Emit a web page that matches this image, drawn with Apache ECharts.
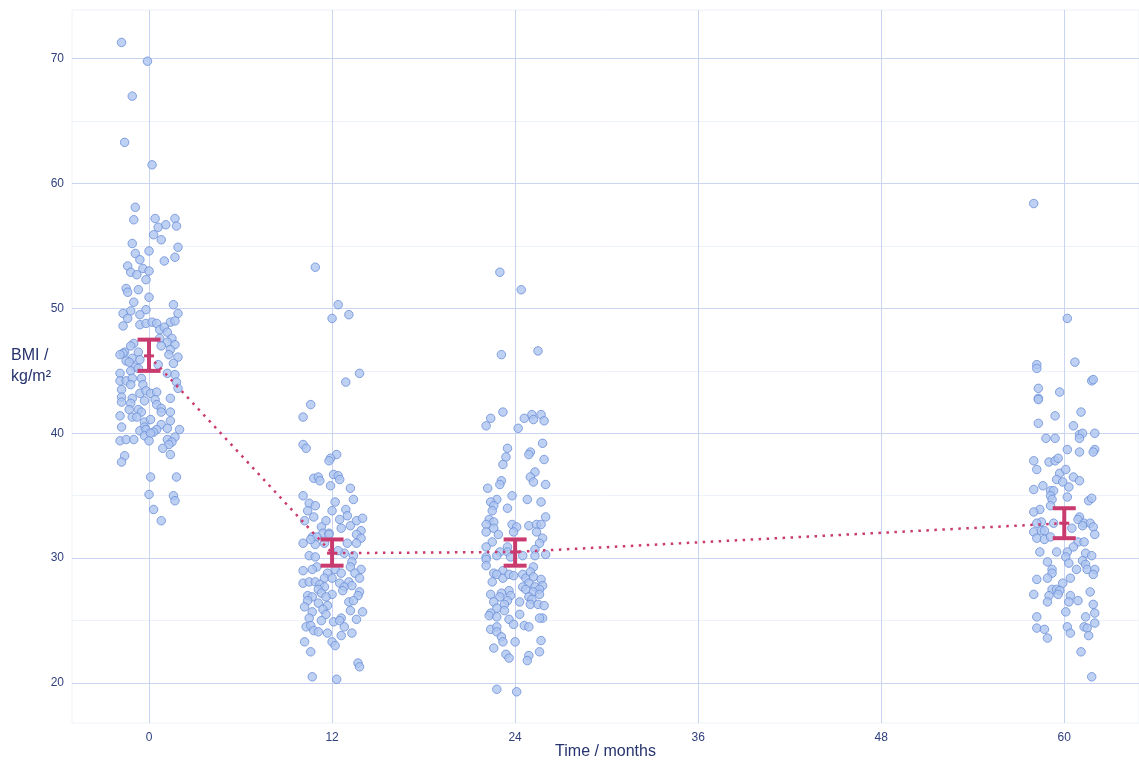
<!DOCTYPE html>
<html>
<head>
<meta charset="utf-8">
<script src="https://cdn.jsdelivr.net/npm/echarts@6/dist/echarts.min.js"></script>
<style>
html,body{margin:0;padding:0;background:#fff;overflow:hidden;}
#chart{width:1139px;height:760px;}
</style>
</head>
<body>
<div id="chart"></div>
<script>
// ---- data (x = months with jitter, y = BMI) ----
const month0 = [[-1.8,71.3],[-0.1,69.8],[-1.1,67.0],[-1.6,63.3],[0.2,61.5],[-0.9,58.1],
[-1.0,57.1],[0.4,57.2],[1.7,57.2],[0.6,56.5],[1.1,56.7],[1.8,56.6],[0.3,55.9],[0.8,55.5],[-1.1,55.2],[1.9,54.9],[0,54.6],[-0.9,54.4],[1.7,54.1],[-0.6,53.9],[1.0,53.8],[-1.4,53.4],[-1.2,52.9],[-0.8,52.7],[-0.4,53.2],[0,53.0],[-0.2,52.3],[-1.5,51.6],[-1.4,51.3],[-0.7,51.5],[0,50.9],[-1.0,50.5],[1.6,50.3],[-1.2,49.8],[-1.7,49.6],[-0.2,49.9],[1.9,49.6],[-1.4,49.2],[-0.6,49.5],[-1.7,48.6],[-0.6,48.7],[-0.2,48.8],[0.2,48.9],[0.5,48.8],[1.4,48.9],[1.7,49.0],[0.7,48.3],[1.0,48.5],[1.2,48.1],[1.5,47.6],[0.7,47.6],[1.2,47.3],[1.7,47.1],[-1.0,47.2],[-1.2,47.0],[0.8,47.0],[1.4,46.7],[-1.6,46.5],[-0.7,46.5],[-1.7,46.4],[-1.9,46.3],[1.3,46.3],[-1.1,46.0],[1.9,46.1],[-0.6,45.9],[-1.5,45.8],[-1.3,45.7],[-0.9,45.3],[0.6,45.5],[1.6,45.6],
[-1.9,44.8],[-1.2,45.0],[-0.7,45.2],[-1.9,44.2],[-1.5,44.2],[-1.1,44.4],[-0.5,44.4],[1.2,44.8],[1.7,44.7],[1.8,44.1],[-1.2,43.9],[-0.4,43.9],[1.9,43.6],[-1.8,43.5],[-0.6,43.2],[-0.2,43.4],[0.1,43.2],[0.5,43.3],[-1.8,42.9],[-1.1,42.8],[-0.3,42.6],[0.4,42.7],[1.4,42.8],[-1.8,42.5],[-1.2,42.4],[0.5,42.3],[-1.3,41.9],[-0.7,41.9],[0.8,42.0],[-0.5,41.7],[0.8,41.7],[-1.9,41.4],[1.4,41.7],[-1.1,41.3],[-0.8,41.3],[1.4,41.0],[-0.3,40.9],[0.1,41.1],[-1.8,40.5],[-0.3,40.5],[0.8,40.7],[0.5,40.3],[1.2,40.4],[2.0,40.3],[-0.6,40.2],[-0.2,40.3],[0.3,40.1],[-0.3,39.8],[0.1,40.0],[1.7,39.7],[-1.9,39.4],[-1.5,39.5],[-1.0,39.5],[0,39.4],[1.2,39.5],[1.5,39.3],[1.3,39.1],[0.9,38.8],[-1.6,38.2],[1.4,38.3],[-1.8,37.7],[0.1,36.5],[1.8,36.5],[0,35.1],[1.6,35.0],[1.7,34.6],[0.3,33.9],[0.8,33.0]];

const month12 = [[10.9,53.3],[12.4,50.3],[13.1,49.5],[12.0,49.2],[13.8,44.8],[12.9,44.1],[10.6,42.3],[10.1,41.3],
[10.1,39.1],[10.3,38.8],[12.3,38.3],[11.9,38.0],[11.8,37.8],[12.1,36.7],[12.4,36.6],[12.5,36.3],[10.8,36.4],[11.1,36.5],[11.2,36.2],[11.9,35.8],[13.2,35.6],[10.1,35.0],[13.4,34.7],[10.5,34.4],[12.2,34.5],[10.9,34.2],[10.4,33.8],[12.0,33.8],[12.9,33.9],[13.0,33.4],[10.8,33.3],[10.2,33.0],[11.6,33.0],[12.5,33.1],[13.6,33.0],[14.0,33.2],[11.3,32.5],[12.6,32.4],[13.2,32.6],[13.9,32.2],[11.4,32.0],[11.8,32.0],[13.6,31.9],[10.7,31.7],[11.0,31.7],[13.9,31.6],[10.1,31.2],[10.9,31.1],[13.0,31.2],[13.6,31.2],[10.6,31.5],[11.5,31.2],[12.8,30.4],[10.5,30.2],[10.9,30.1],[13.4,30.2],[12.4,30.6],[11.8,31.9],
[13.3,29.7],[11.0,29.3],[12.2,29.1],[10.1,29.0],[10.7,29.1],[13.2,29.3],[13.9,29.1],[11.7,28.8],[12.6,28.8],[13.5,28.8],[10.1,28.0],[10.5,28.1],[10.9,28.1],[11.5,28.4],[12.0,28.4],[12.5,28.0],[13.1,28.1],[13.8,28.4],[11.2,27.9],[11.5,27.7],[12.8,27.7],[13.3,27.8],[11.1,27.5],[11.3,27.2],[12.0,27.1],[12.7,27.4],[13.8,27.3],[10.4,27.0],[10.7,26.9],[11.6,26.9],[13.7,27.0],[10.4,26.6],[13.1,26.5],[13.4,26.6],[11.1,26.4],[10.2,26.1],[11.7,26.2],[11.4,25.9],[13.2,25.8],[10.7,25.7],[11.6,25.5],[14.0,25.7],[10.5,25.2],[12.6,25.2],[11.3,25.0],[12.1,24.9],[12.5,25.0],[13.6,25.1],[10.3,24.5],[10.6,24.6],[12.8,24.5],[10.8,24.2],[11.1,24.1],[11.7,24.0],[13.3,24.0],[12.6,23.8],[10.2,23.3],[12.0,23.3],[12.2,23.0],[10.6,22.5],[13.7,21.6],[13.8,21.3],[10.7,20.5],[12.3,20.3]];

const month24 = [[23.0,52.9],[24.4,51.5],[23.1,46.3],[25.5,46.6],[23.2,41.7],[22.4,41.2],[22.1,40.6],[24.6,41.2],[25.1,41.5],[25.2,41.1],[25.7,41.5],[25.9,41.0],[24.2,40.4],
[23.5,38.8],[25.8,39.2],[23.4,38.1],[25.0,38.5],[24.9,38.3],[23.2,37.5],[25.9,37.9],[25.3,36.9],[25.0,36.5],[25.2,36.1],[23.1,36.2],[23.0,35.9],[26.0,35.9],[22.2,35.6],[23.8,35.0],[22.8,34.7],[24.8,34.7],[25.7,34.5],[22.4,34.5],[22.6,34.2],[22.5,33.8],[23.5,34.0],[26.0,33.3],[22.3,33.1],[22.6,32.9],[22.1,32.7],[23.8,32.7],[24.9,32.6],[25.4,32.7],[25.7,32.7],[22.6,32.4],[24.1,32.5],[22.1,32.1],[23.9,32.1],[25.4,32.1],[22.9,31.9],[25.8,31.6],[22.5,31.3],[25.6,31.2],[22.1,30.9],[23.5,30.9],[23.0,30.5],[25.3,30.7],[26.0,30.3],[22.1,30.1],[22.8,30.2],[23.5,30.5],[24.5,30.2],[25.3,30.2],
[22.1,29.9],[23.7,30.1],[22.1,29.4],[25.2,29.3],[22.6,28.8],[23.2,29.0],[22.8,28.7],[23.2,28.4],[23.6,28.7],[23.9,28.6],[24.5,28.7],[24.7,28.4],[25.0,28.9],[25.2,28.5],[25.7,28.3],[22.5,28.1],[24.9,28.0],[25.8,27.8],[24.5,27.7],[25.3,27.7],[25.6,27.5],[23.6,27.4],[24.7,27.5],[25.2,27.3],[22.4,27.1],[23.1,27.2],[25.6,27.1],[23.0,26.9],[23.7,27.0],[24.9,26.9],[22.6,26.5],[23.5,26.6],[24.3,26.5],[25.1,26.7],[23.3,26.3],[25.0,26.3],[25.5,26.3],[25.9,26.2],[22.8,26.0],[23.3,25.8],[22.4,25.6],[22.3,25.4],[24.3,25.5],[22.8,25.3],[25.8,25.2],[25.6,25.2],[23.6,25.1],[23.9,24.7],[24.6,24.6],[24.9,24.5],[22.4,24.3],[22.8,24.5],[22.8,24.1],[23.1,23.7],[23.2,23.3],[24.0,23.3],[25.7,23.4],[22.6,22.8],[23.4,22.3],[23.6,22.0],[24.9,22.2],[24.8,21.8],[25.6,22.5],[22.8,19.5],[24.1,19.3]];

const month60 = [[58.0,58.4],[60.2,49.2],[58.2,45.5],[58.2,45.2],[60.7,45.7],[61.8,44.2],[61.9,44.3],[58.3,43.6],[59.7,43.3],[58.3,42.8],
[58.3,42.7],[59.4,41.4],[61.1,41.7],[58.3,40.8],[60.6,40.6],[61.0,39.9],[61.2,40.0],[62.0,40.0],[58.8,39.6],[59.4,39.6],[61.0,39.6],[60.2,38.7],[61.0,38.5],[62.0,38.7],[61.9,38.5],[58.0,37.8],[59.0,37.7],[59.4,37.8],[59.6,38.0],[58.2,37.1],[59.7,36.8],[60.1,37.1],[59.5,36.3],[59.9,36.1],[60.6,36.5],[61.0,36.2],[58.6,35.8],[60.3,35.7],[58.0,35.5],[59.1,35.4],[59.3,35.4],[59.1,35.0],[60.2,34.9],[61.6,34.6],[61.8,34.8],[59.2,34.7],[59.1,34.2],[58.4,33.9],[58.0,33.7],[61.0,33.3],[58.5,32.9],[58.2,32.8],[59.3,32.8],[60.9,33.1],[61.3,32.8],[61.7,32.8],[60.5,32.4],[61.2,32.6],[61.9,32.5],[58.0,32.1],[58.5,32.2],[58.7,32.2],[62.0,31.9],[58.2,31.6],[58.7,31.5],[59.1,31.7],[60.9,31.3],[61.3,31.3],[60.6,30.9],[58.4,30.5],[59.5,30.5],[60.2,30.5],[61.4,30.4],[60.1,30.1],[61.8,30.2],
[58.9,29.7],[60.3,29.6],[61.2,29.8],[61.4,29.5],[60.8,29.1],[61.5,29.1],[62.0,29.1],[59.2,29.1],[59.2,28.8],[61.9,28.7],[58.2,28.3],[58.9,28.4],[60.4,28.4],[59.9,28.0],[59.2,27.5],[59.5,27.5],[59.7,27.4],[61.7,27.3],[58.0,27.1],[59.0,27.0],[59.6,27.1],[60.4,27.0],[58.9,26.5],[60.3,26.5],[60.9,26.6],[61.9,26.3],[60.1,25.7],[62.0,25.6],[58.2,25.3],[61.4,25.3],[62.0,24.8],[58.2,24.4],[58.7,24.3],[60.2,24.5],[61.3,24.5],[61.5,24.4],[60.4,24.0],[61.6,23.8],[58.9,23.6],[61.1,22.5],[61.8,20.5]];

const meanTimes = [0, 12, 24, 60];
const meanBMI   = [46.2, 30.4, 30.5, 32.8];
const ciLow     = [45.0, 29.4, 29.4, 31.6];
const ciHigh    = [47.5, 31.5, 31.5, 34.0];

const xTickValues = [0, 12, 24, 36, 48, 60];
const yTickValues = [20, 30, 40, 50, 60, 70];
const yMinorValues = [25, 35, 45, 55, 65];

// ---- styles ----
const ACCENT = '#c93a6e';
const MAJOR = '#c9d5f0';
const MINOR = '#eef2f9';
const LABEL = '#2e3f7c';
const FONT = '"Liberation Sans", Arial, sans-serif';

const pointStyle = { color: '#aec6f0', borderColor: '#6b8fd8', borderWidth: 1 };

function scatterSeries(name, data) {
  return { name, type: 'scatter', data, symbolSize: 8.5, itemStyle: pointStyle, z: 3, silent: true };
}

const chart = echarts.init(document.getElementById('chart'), null, { renderer: 'canvas', width: 1139, height: 760 });

const option = {
  animation: false,
  backgroundColor: '#ffffff',
  textStyle: { fontFamily: FONT },
  grid: { left: 72, right: 0, top: 10, bottom: 37, show: true, borderColor: MINOR, borderWidth: 1,
          containLabel: false, outerBoundsMode: 'none' },
  xAxis: {
    type: 'value', min: -5.05, max: 64.9,
    axisLine: { show: false }, axisTick: { show: false }, splitLine: { show: false },
    axisLabel: { customValues: xTickValues, color: LABEL, fontSize: 12, margin: 9, fontFamily: FONT },
    name: 'Time / months', nameLocation: 'middle', nameGap: 21, nameMoveOverlap: false,
    nameTextStyle: { color: '#26336e', fontSize: 16, fontFamily: FONT }
  },
  yAxis: {
    type: 'value', min: 16.8, max: 73.9,
    axisLine: { show: false }, axisTick: { show: false }, splitLine: { show: false },
    axisLabel: { customValues: yTickValues, color: LABEL, fontSize: 12, margin: 8, fontFamily: FONT },
    name: 'BMI /\nkg/m²', nameLocation: 'middle', nameGap: 61, nameRotate: 0, nameMoveOverlap: false,
    nameTextStyle: { color: '#26336e', fontSize: 16, align: 'left', lineHeight: 21, fontFamily: FONT }
  },
  series: [
    {
      name: 'gridlines', type: 'line', data: [], silent: true, z: 0,
      markLine: {
        silent: true, z: 0, symbol: ['none', 'none'], animation: false, label: { show: false },
        emphasis: { disabled: true },
        lineStyle: { color: MAJOR, type: 'solid', width: 1 },
        data: yMinorValues.map(v => ({ yAxis: v, lineStyle: { color: MINOR, type: 'solid', width: 1 } }))
          .concat(xTickValues.map(v => ({ xAxis: v })))
          .concat(yTickValues.map(v => ({ yAxis: v })))
      }
    },
    scatterSeries('0', month0),
    scatterSeries('12', month12),
    scatterSeries('24', month24),
    scatterSeries('60', month60),
    {
      name: 'mean', type: 'line', data: meanTimes.map((t, i) => [t, meanBMI[i]]),
      showSymbol: false, symbol: 'none', z: 4, silent: true,
      lineStyle: { color: ACCENT, width: 2.5, type: [2.5, 5.5] }
    },
    {
      name: 'ci', type: 'custom', z: 5, silent: true,
      data: meanTimes.map((t, i) => [t, ciLow[i], ciHigh[i], meanBMI[i]]),
      renderItem: function (params, api) {
        const x = api.value(0);
        const lo = api.coord([x, api.value(1)]);
        const hi = api.coord([x, api.value(2)]);
        const mid = api.coord([x, api.value(3)]);
        const hw = 11.5;
        const st = { stroke: ACCENT, lineWidth: 4 };
        return {
          type: 'group',
          children: [
            { type: 'line', shape: { x1: lo[0], y1: lo[1], x2: hi[0], y2: hi[1] }, style: st },
            { type: 'line', shape: { x1: lo[0] - hw, y1: lo[1], x2: lo[0] + hw, y2: lo[1] }, style: st },
            { type: 'line', shape: { x1: hi[0] - hw, y1: hi[1], x2: hi[0] + hw, y2: hi[1] }, style: st },
            { type: 'line', shape: { x1: mid[0] - 5, y1: mid[1], x2: mid[0] + 5, y2: mid[1] }, style: { stroke: ACCENT, lineWidth: 3 } }
          ]
        };
      }
    }
  ]
};
chart.setOption(option);
</script>
</body>
</html>
